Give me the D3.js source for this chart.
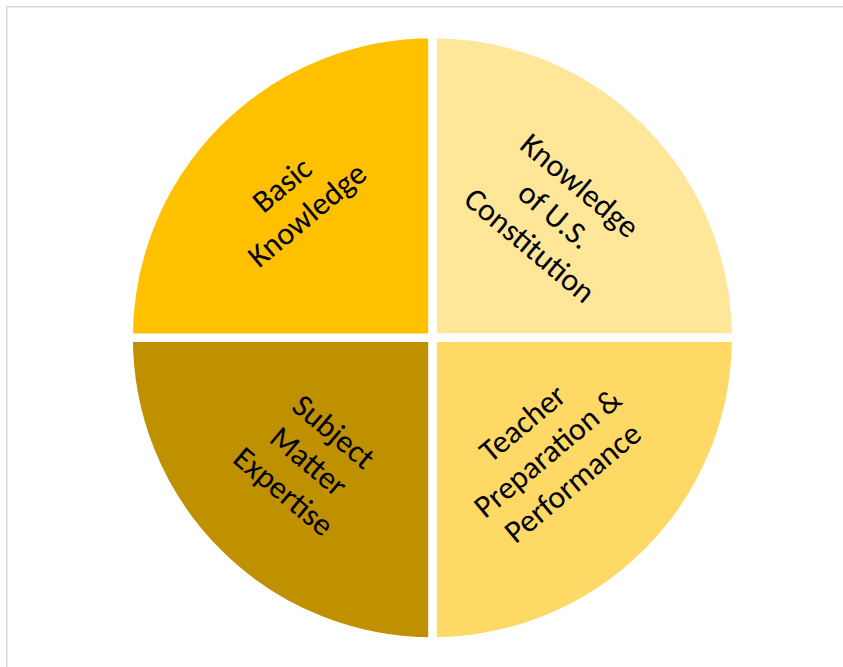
<!DOCTYPE html>
<html>
<head>
<meta charset="utf-8">
<script src="https://cdn.jsdelivr.net/npm/d3@7"></script>
<style>
  html, body { margin: 0; padding: 0; background: #ffffff; }
  svg { display: block; }
</style>
</head>
<body>
<div id="chart"></div>
<script>
// Four equal parts, clockwise from 12 o'clock
const categories = [
  "Knowledge of U.S. Constitution",
  "Teacher Preparation & Performance",
  "Subject Matter Expertise",
  "Basic Knowledge"
];
const labelLines = [
  ["Knowledge", "of U.S.", "Constitution"],
  ["Teacher", "Preparation &", "Performance"],
  ["Subject", "Matter", "Expertise"],
  ["Basic", "Knowledge"]
];
const values = [25, 25, 25, 25];
const colors = ["#FFE699", "#FFD966", "#BF9000", "#FFC000"];

const W = 843, H = 667;
const cx = 432.4, cy = 337.8;
const R = 303.7;
const gap = 8.4;
// distance of each label block from the centre, per slice
const labelRadius = [173, 163, 175, 195];

const svg = d3.select("#chart").append("svg")
  .attr("width", W).attr("height", H);

// chart frame
svg.append("rect")
  .attr("x", 6.75).attr("y", 6.75)
  .attr("width", 1000).attr("height", 1000)
  .attr("fill", "none")
  .attr("stroke", "#d9d9d9")
  .attr("stroke-width", 1.5);

const data = categories.map((c, i) => ({ name: c, value: values[i], lines: labelLines[i], color: colors[i] }));

const pie = d3.pie().sort(null).value(d => d.value);
const arc = d3.arc().innerRadius(0).outerRadius(R);

const g = svg.append("g").attr("transform", `translate(${cx},${cy})`);
const arcs = pie(data);

g.selectAll("path.slice")
  .data(arcs)
  .join("path")
  .attr("class", "slice")
  .attr("d", arc)
  .attr("fill", d => d.data.color)
  .attr("stroke", "#ffffff")
  .attr("stroke-width", gap)
  .attr("stroke-linejoin", "miter");

const fontFamily = "Calibri, Carlito, Lato, 'Open Sans', sans-serif";

// size the label font so "Knowledge" spans about 143px
const probe = svg.append("text")
  .attr("font-family", fontFamily)
  .attr("font-size", 100)
  .text("Knowledge");
const probeW = probe.node().getComputedTextLength();
probe.remove();
const fontSize = 100 * 143 / probeW;
const lineH = 39;

const labels = g.selectAll("g.label")
  .data(arcs)
  .join("g")
  .attr("class", "label")
  .attr("transform", (d, i) => {
    const r = labelRadius[i];
    const [x, y] = d3.arc().innerRadius(r).outerRadius(r).centroid(d);
    const rot = x * y > 0 ? -40 : 40;
    return `translate(${x},${y}) rotate(${rot})`;
  });

labels.each(function(d) {
  const n = d.data.lines.length;
  d3.select(this).selectAll("text")
    .data(d.data.lines)
    .join("text")
    .attr("x", 0)
    .attr("y", (t, i) => (i - (n - 1) / 2) * lineH)
    .attr("text-anchor", "middle")
    .attr("dominant-baseline", "central")
    .attr("font-family", fontFamily)
    .attr("font-size", fontSize)
    .attr("fill", "#000000")
    .text(t => t);
});
</script>
</body>
</html>
